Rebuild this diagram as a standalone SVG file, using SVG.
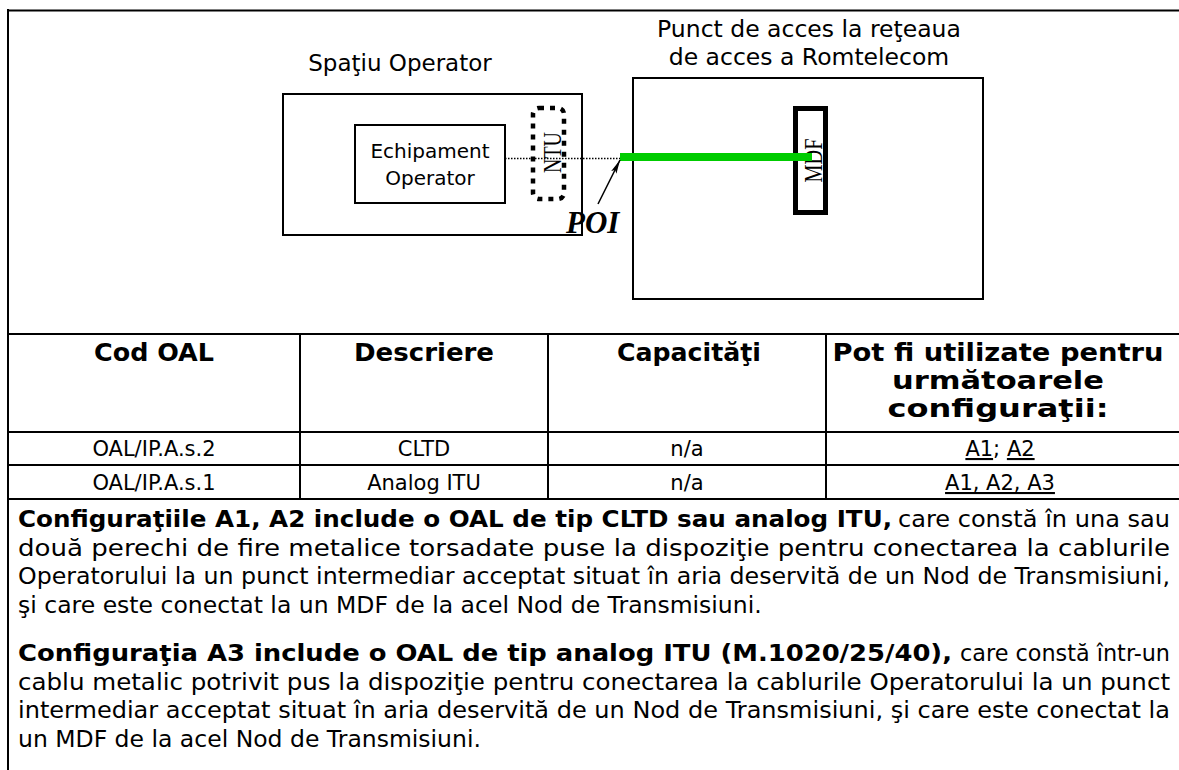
<svg xmlns="http://www.w3.org/2000/svg" width="1179" height="770" viewBox="0 0 1179 770">
<style>
.ln{stroke:#000;stroke-width:2;fill:none}
.box{stroke:#000;stroke-width:2;fill:none}
.sans{font-family:"DejaVu Sans","Noto Sans",sans-serif;fill:#000}
.hd{font-family:"DejaVu Sans","Noto Sans",sans-serif;font-weight:bold;font-size:25px;text-anchor:middle;fill:#000}
.cell{font-family:"DejaVu Sans","Noto Sans",sans-serif;font-size:21px;text-anchor:middle;fill:#000}
.para{font-family:"DejaVu Sans","Noto Sans",sans-serif;font-size:23.5px;fill:#000}
.b{font-weight:bold}
.serif{font-family:"Liberation Serif","DejaVu Serif",serif;fill:#000}
.u{text-decoration:underline}
</style>
<defs>
<marker id="arr" viewBox="0 0 14 7" refX="14" refY="3.5" markerWidth="14" markerHeight="7" markerUnits="userSpaceOnUse" orient="auto">
<path d="M0,0.5 L14,3.5 L0,6.5 L3,3.5 Z" fill="#000"/>
</marker>
</defs>
<rect width="1179" height="770" fill="#fff"/>

<g id="frame">
<line class="ln" x1="7" y1="10.5" x2="1179" y2="10.5" stroke-width="3"/>
<line class="ln" x1="8" y1="9" x2="8" y2="770" stroke-width="2.5"/>
</g>

<g id="spatiu-operator">
<text class="sans" x="400" y="71" font-size="23" text-anchor="middle">Spaţiu Operator</text>
<rect class="box" x="283" y="94" width="299" height="141"/>
</g>

<g id="echipament">
<rect class="box" x="355" y="125" width="150" height="78"/>
<text class="sans" x="430" y="158" font-size="20" text-anchor="middle">Echipament</text>
<text class="sans" x="430" y="185" font-size="20" text-anchor="middle">Operator</text>
</g>

<g id="ntu">
<rect x="533" y="108" width="31" height="91" rx="6" fill="none" stroke="#000" stroke-width="4.5" stroke-dasharray="5 6"/>
<text class="serif" font-size="26" text-anchor="middle" textLength="41" lengthAdjust="spacingAndGlyphs" transform="translate(561,152.5) rotate(-90)">NTU</text>
</g>

<g id="punct-acces">
<text class="sans" x="809" y="37" font-size="23.5" text-anchor="middle">Punct de acces la reţeaua</text>
<text class="sans" x="809" y="65" font-size="23.5" text-anchor="middle">de acces a Romtelecom</text>
<rect class="box" x="633" y="78" width="350" height="221"/>
</g>

<g id="mdf">
<rect x="795.5" y="108.5" width="30" height="104" fill="#fff" stroke="#000" stroke-width="5"/>
<text class="serif" font-size="26" text-anchor="middle" textLength="44" lengthAdjust="spacingAndGlyphs" transform="translate(821.5,160.5) rotate(-90)">MDF</text>
</g>

<g id="connectors">
<line x1="505" y1="158.5" x2="620" y2="158.5" stroke="#000" stroke-width="1.5" stroke-dasharray="1.5 1.5"/>
<line x1="620" y1="157" x2="812" y2="157" stroke="#00cc00" stroke-width="8"/>
<line x1="598" y1="204" x2="620" y2="160" stroke="#000" stroke-width="1.5" marker-end="url(#arr)"/>
</g>

<g id="poi">
<text class="serif" x="566" y="233" font-size="31" font-weight="bold" font-style="italic">POI</text>
</g>

<g id="table">
<line class="ln" x1="8" y1="334" x2="1179" y2="334"/>
<line class="ln" x1="8" y1="432" x2="1179" y2="432"/>
<line class="ln" x1="8" y1="465" x2="1179" y2="465"/>
<line class="ln" x1="8" y1="499" x2="1179" y2="499"/>
<line class="ln" x1="300" y1="334" x2="300" y2="499"/>
<line class="ln" x1="548" y1="334" x2="548" y2="499"/>
<line class="ln" x1="826" y1="334" x2="826" y2="499"/>
<text class="hd" x="154" y="361" textLength="120" lengthAdjust="spacingAndGlyphs">Cod OAL</text>
<text class="hd" x="424" y="361" textLength="140" lengthAdjust="spacingAndGlyphs">Descriere</text>
<text class="hd" x="689" y="361" textLength="144" lengthAdjust="spacingAndGlyphs">Capacităţi</text>
<text class="hd" x="998" y="361" textLength="331" lengthAdjust="spacingAndGlyphs">Pot fi utilizate pentru</text>
<text class="hd" x="998" y="389" textLength="212" lengthAdjust="spacingAndGlyphs">următoarele</text>
<text class="hd" x="998" y="417" textLength="221" lengthAdjust="spacingAndGlyphs">configuraţii:</text>
<text class="cell" x="154" y="456">OAL/IP.A.s.2</text>
<text class="cell" x="424" y="456">CLTD</text>
<text class="cell" x="687" y="456">n/a</text>
<text class="cell" x="1000" y="456"><tspan class="u">A1</tspan>; <tspan class="u">A2</tspan></text>
<text class="cell" x="154" y="490">OAL/IP.A.s.1</text>
<text class="cell" x="424" y="490">Analog ITU</text>
<text class="cell" x="687" y="490">n/a</text>
<text class="cell u" x="1000" y="490">A1, A2, A3</text>
</g>

<g id="text">
<text class="para b" x="18" y="527" textLength="874" lengthAdjust="spacingAndGlyphs">Configuraţiile A1, A2 include o OAL de tip CLTD sau analog ITU,</text>
<text class="para" x="898" y="527" textLength="272" lengthAdjust="spacingAndGlyphs">care constă în una sau</text>
<text class="para" x="18" y="555.5" textLength="1152" lengthAdjust="spacingAndGlyphs">două perechi de fire metalice torsadate puse la dispoziţie pentru conectarea la cablurile</text>
<text class="para" x="18" y="584" textLength="1152" lengthAdjust="spacingAndGlyphs">Operatorului la un punct intermediar acceptat situat în aria deservită de un Nod de Transmisiuni,</text>
<text class="para" x="18" y="612.5">şi care este conectat la un MDF de la acel Nod de Transmisiuni.</text>
<text class="para b" x="18" y="661" textLength="934" lengthAdjust="spacingAndGlyphs">Configuraţia A3 include o OAL de tip analog ITU (M.1020/25/40),</text>
<text class="para" x="960" y="661" font-size="22.5" textLength="210" lengthAdjust="spacingAndGlyphs">care constă într-un</text>
<text class="para" x="18" y="689.5" textLength="1152" lengthAdjust="spacingAndGlyphs">cablu metalic potrivit pus la dispoziţie pentru conectarea la cablurile Operatorului la un punct</text>
<text class="para" x="18" y="718" textLength="1152" lengthAdjust="spacingAndGlyphs">intermediar acceptat situat în aria deservită de un Nod de Transmisiuni, şi care este conectat la</text>
<text class="para" x="18" y="746.5">un MDF de la acel Nod de Transmisiuni.</text>
</g>
</svg>
